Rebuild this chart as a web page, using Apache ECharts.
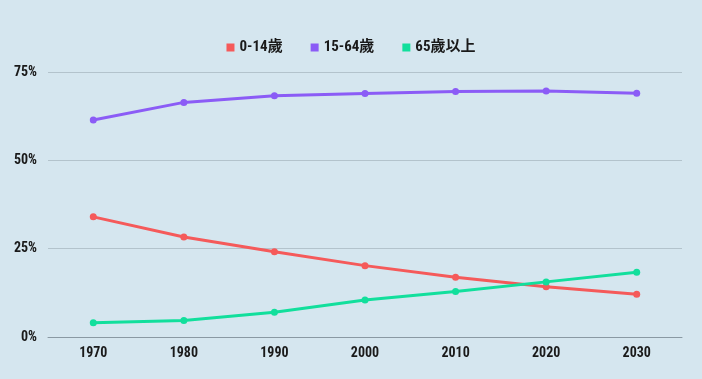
<!DOCTYPE html>
<html>
<head>
<meta charset="utf-8">
<script src="https://cdn.jsdelivr.net/npm/echarts@6/dist/echarts.min.js"></script>
<style>
html,body{margin:0;padding:0;background:#d5e6ef;}
#c{width:702px;height:379px;}
</style>
</head>
<body>
<div id="c"></div>
<script>
const years = ['1970','1980','1990','2000','2010','2020','2030'];
const age0to14 = [34.0, 28.3, 24.1, 20.2, 16.9, 14.2, 12.1];
const age15to64 = [61.4, 66.4, 68.3, 68.9, 69.5, 69.6, 69.0];
const age65plus = [4.0, 4.7, 7.0, 10.5, 12.9, 15.6, 18.3];
const seriesNames = ['0-14歲', '15-64歲', '65歲以上'];
const colors = ['#f55a5a', '#8b5cf6', '#12df9c'];

const font = 'Roboto, "Noto Sans CJK TC", sans-serif';
const txt = {fontFamily: font, fontStyle: 'condensed', fontWeight: 'bold', color: '#1a1a1a'};
const chart = echarts.init(document.getElementById('c'));
function mk(name, data, color) {
  return {
    name: name, type: 'line', data: data,
    symbol: 'circle', symbolSize: 7,
    lineStyle: {width: 3, color: color},
    itemStyle: {color: color},
    emphasis: {disabled: true}
  };
}
chart.setOption({
  backgroundColor: '#d5e6ef',
  animation: false,
  color: colors,
  legend: {
    top: 35, left: 'center', icon: 'rect', itemWidth: 8, itemHeight: 8, itemGap: 28, itemTextGap: 10,
    textStyle: Object.assign({fontSize: 15}, txt)
  },
  grid: {left: 48, right: 20, top: 72, bottom: 42, containLabel: false},
  xAxis: {
    type: 'category', data: years, boundaryGap: true,
    axisLine: {lineStyle: {color: '#8a99a3', width: 1}},
    axisTick: {show: false},
    axisLabel: Object.assign({fontSize: 14, margin: 10}, txt)
  },
  yAxis: {
    type: 'value', min: 0, max: 75, interval: 25,
    axisLine: {show: false}, axisTick: {show: false},
    splitLine: {lineStyle: {color: '#b3c3cc', width: 1}},
    axisLabel: Object.assign({formatter: '{value}%', fontSize: 14, margin: 11}, txt)
  },
  series: [
    mk(seriesNames[0], age0to14, colors[0]),
    mk(seriesNames[1], age15to64, colors[1]),
    mk(seriesNames[2], age65plus, colors[2])
  ]
});
</script>
</body>
</html>
